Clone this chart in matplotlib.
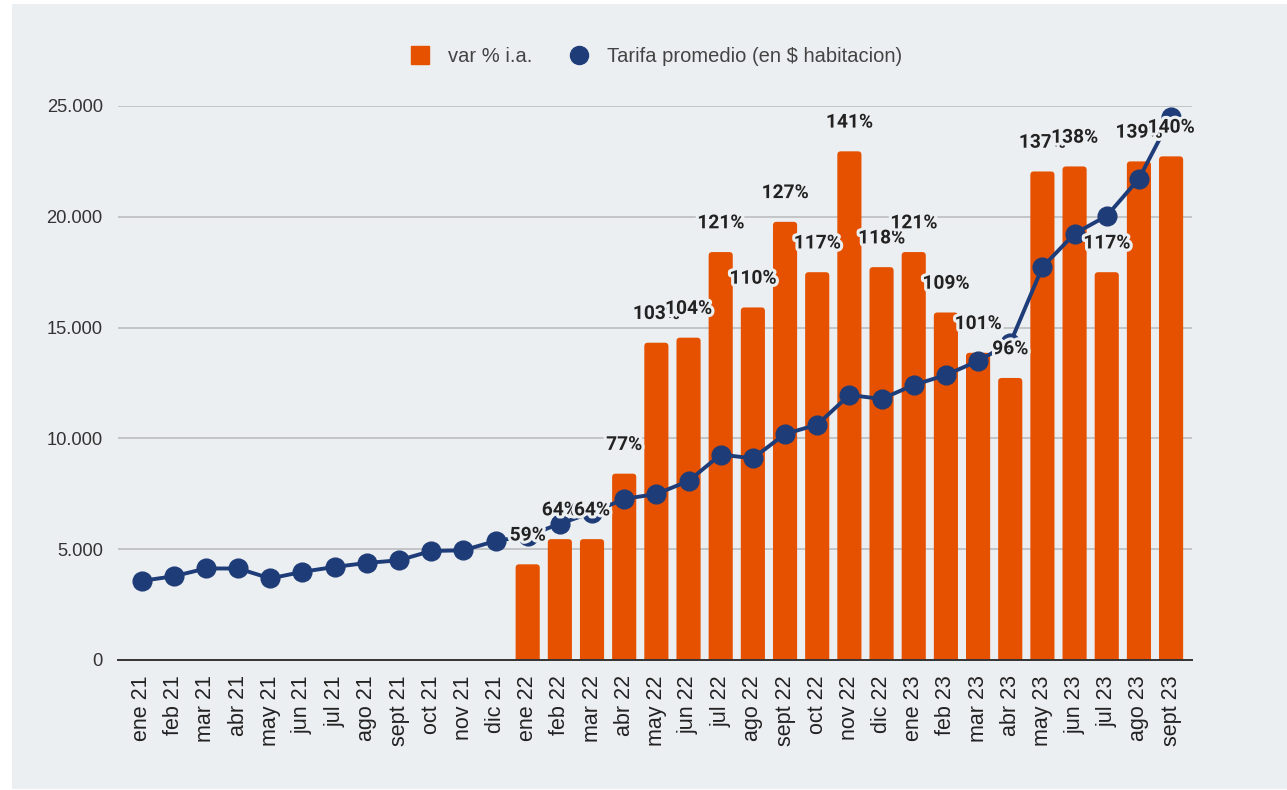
import matplotlib
matplotlib.use("Agg")
import matplotlib.pyplot as plt
import matplotlib.patheffects as pe
from matplotlib.patches import Rectangle, FancyBboxPatch
from matplotlib.lines import Line2D
from matplotlib.ticker import FuncFormatter

months = ["ene 21", "feb 21", "mar 21", "abr 21", "may 21", "jun 21", "jul 21", "ago 21",
          "sept 21", "oct 21", "nov 21", "dic 21",
          "ene 22", "feb 22", "mar 22", "abr 22", "may 22", "jun 22", "jul 22", "ago 22",
          "sept 22", "oct 22", "nov 22", "dic 22",
          "ene 23", "feb 23", "mar 23", "abr 23", "may 23", "jun 23", "jul 23", "ago 23",
          "sept 23"]

tarifa = [3570, 3780, 4130, 4130, 3680, 3980, 4200, 4380, 4500, 4920, 4950, 5370,
          5600, 6150, 6650, 7270, 7490, 8080, 9270, 9100, 10200, 10620, 11960, 11780,
          12410, 12860, 13500, 14300, 17730, 19240, 20040, 21720, 24500]

# var % i.a. starts in ene 22
var_months = months[12:]
var_pct = [59, 64, 64, 77, 103, 104, 121, 110, 127, 117, 141, 118,
           121, 109, 101, 96, 137, 138, 117, 139, 140]

BG = "#eceff1"
ORANGE = "#e65100"
NAVY = "#1e3c78"

fig = plt.figure(figsize=(12.87, 7.90), dpi=100)
fig.patch.set_facecolor("white")
bg = Rectangle((12/1287, 1/790), 1.0, 785/790, transform=fig.transFigure,
               facecolor=BG, edgecolor="none", zorder=-10)
fig.patches.append(bg)

pos = [118/1287, 1-660/790, (1192-118)/1287, (660-106)/790]
ax2 = fig.add_axes(pos, zorder=1)   # bars (secondary, hidden)
ax = fig.add_axes(pos, zorder=2)    # line + labels
ax.patch.set_visible(False)
ax2.patch.set_visible(False)

x_all = list(range(len(months)))
x_var = [months.index(m) for m in var_months]

Y2MIN, Y2MAX = 40, 150
XMIN, XMAX = -0.735, 32.65
bars = ax2.bar(x_var, var_pct, width=0.75, color=ORANGE, zorder=2)
ax2.set_ylim(Y2MIN, Y2MAX)
ax2.set_xlim(XMIN, XMAX)
ax2.axis("off")

# rounded top corners: replace each bar by a rounded box of the same geometry
px_per_x = (1192 - 118) / (XMAX - XMIN)
px_per_y = (660 - 106) / (Y2MAX - Y2MIN)
r = 3.5 / px_per_x
aspect = px_per_x / px_per_y
for b in bars:
    b.set_visible(False)
    x0, w, top = b.get_x(), b.get_width(), b.get_y() + b.get_height()
    y0 = Y2MIN - 3
    fb = FancyBboxPatch((x0 + r, y0), w - 2 * r, top - y0 - r * aspect,
                        boxstyle=f"round,pad={r},rounding_size={r}",
                        mutation_aspect=aspect, facecolor=ORANGE, edgecolor="none",
                        zorder=2, clip_on=True)
    ax2.add_patch(fb)

ax.plot(x_all, tarifa, color=NAVY, lw=2.8, marker="o", markersize=13.5,
        zorder=3, clip_on=False)
ax.set_ylim(0, 25000)
ax.set_xlim(XMIN, XMAX)

ax.set_yticks([0, 5000, 10000, 15000, 20000, 25000])
ax.yaxis.set_major_formatter(FuncFormatter(lambda v, p: f"{int(v):,}".replace(",", ".")))
for s in ["top", "right", "left"]:
    ax.spines[s].set_visible(False)
ax.spines["bottom"].set_color("#333333")
ax.spines["bottom"].set_linewidth(1.4)
ax.spines["bottom"].set_zorder(4)
# gridlines on the bar axes so they sit below the bars
for gv in [5000, 10000, 15000, 20000, 25000]:
    ax2.axhline(Y2MIN + gv / 25000 * (Y2MAX - Y2MIN), color="#bfc1c3", lw=1.3, zorder=0)

ax.set_xticks(x_all)
ax.set_xticklabels(months, rotation=90, fontsize=15.5, color="#222222",
                   family=["Liberation Sans", "DejaVu Sans"])
for lbl in ax.get_yticklabels():
    lbl.set_fontsize(13.2)
    lbl.set_color("#333333")
    lbl.set_family(["Liberation Sans", "DejaVu Sans"])
ax.tick_params(axis="both", length=0)
ax.tick_params(axis="x", pad=11)
ax.tick_params(axis="y", pad=11)

# data labels (drawn on the top axes, positioned in bar-axes data coords)
for xi, v in zip(x_var, var_pct):
    t = ax.annotate(f"{v}%", xy=(xi, v), xycoords=ax2.transData,
                    xytext=(0, 20.7), textcoords="offset points",
                    ha="center", va="center", fontsize=13.8, fontweight="bold",
                    color="#222222", family=["Roboto", "DejaVu Sans"],
                    zorder=10, annotation_clip=False)
    t.set_path_effects([pe.withStroke(linewidth=4.5, foreground=BG)])

handles = [
    Line2D([], [], marker="s", color="none", markerfacecolor=ORANGE, markeredgecolor=ORANGE,
           markersize=13, label="var % i.a."),
    Line2D([], [], marker="o", color="none", markerfacecolor=NAVY, markeredgecolor=NAVY,
           markersize=13, label="Tarifa promedio (en $ habitacion)"),
]
leg = fig.legend(handles=handles, loc="center", bbox_to_anchor=(0.506, 1-57/790), ncol=2,
                 frameon=False, handletextpad=0.4, columnspacing=1.3,
                 prop={"family": ["Liberation Sans", "DejaVu Sans"], "size": 14.5})
for txt in leg.get_texts():
    txt.set_color("#444444")

fig.savefig("out.png", dpi=100, facecolor=fig.get_facecolor())
